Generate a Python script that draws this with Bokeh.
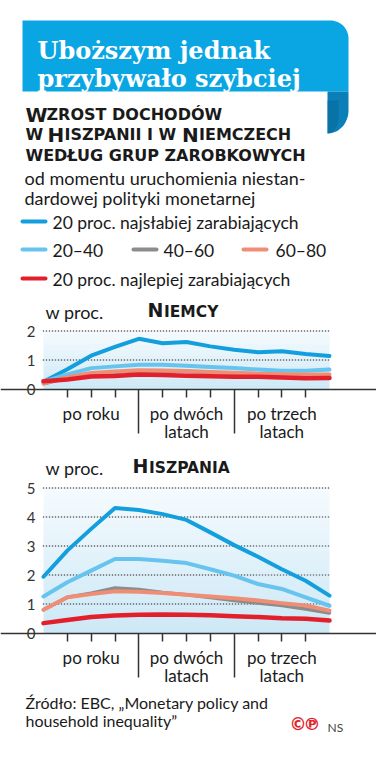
import numpy as np
from bokeh.plotting import figure
from bokeh.layouts import column
from bokeh.models import Range1d, FixedTicker
from bokeh.core.properties import value
from bokeh.embed import file_html
from bokeh.resources import INLINE

# ---------------- data ----------------
quarters = list(range(13))
short_ticks = [1, 2, 3, 5, 6, 7, 9, 10, 11]
year_marks = [4, 8]
period_labels = {2: ["po roku"], 6: ["po dwóch", "latach"], 10: ["po trzech", "latach"]}

group_names = ["20 proc. najsłabiej zarabiających", "20–40", "40–60", "60–80",
               "20 proc. najlepiej zarabiających"]

de_g1 = [0.25, 0.68, 1.15, 1.45, 1.73, 1.58, 1.62, 1.47, 1.35, 1.27, 1.30, 1.21, 1.14]
de_g2 = [0.25, 0.50, 0.72, 0.78, 0.84, 0.84, 0.80, 0.76, 0.72, 0.67, 0.63, 0.63, 0.67]
de_g3 = [0.18, 0.38, 0.52, 0.58, 0.63, 0.62, 0.60, 0.57, 0.54, 0.50, 0.48, 0.46, 0.45]
de_g4 = [0.20, 0.40, 0.55, 0.60, 0.65, 0.64, 0.62, 0.59, 0.56, 0.53, 0.51, 0.50, 0.50]
de_g5 = [0.27, 0.33, 0.43, 0.45, 0.50, 0.48, 0.46, 0.44, 0.42, 0.42, 0.40, 0.37, 0.38]

es_g1 = [1.94, 2.84, 3.59, 4.31, 4.24, 4.10, 3.90, 3.47, 3.03, 2.63, 2.20, 1.80, 1.29]
es_g2 = [1.26, 1.75, 2.15, 2.55, 2.55, 2.49, 2.41, 2.20, 1.98, 1.69, 1.52, 1.23, 0.94]
es_g3 = [0.80, 1.23, 1.37, 1.55, 1.50, 1.40, 1.32, 1.22, 1.12, 1.03, 0.95, 0.83, 0.69]
es_g4 = [0.80, 1.23, 1.34, 1.44, 1.42, 1.38, 1.32, 1.26, 1.20, 1.12, 1.03, 0.95, 0.77]
es_g5 = [0.34, 0.45, 0.55, 0.60, 0.63, 0.64, 0.63, 0.61, 0.58, 0.55, 0.51, 0.49, 0.43]

de_ticks = [0, 1, 2]
es_ticks = [0, 1, 2, 3, 4, 5]

# ---------------- styles ----------------
W = 376
BODY = "Lato"
CAPS = "DejaVu Sans"
SERIF = "DejaVu Serif"
INK = "#1a1a1a"
TITLE_BLUE = "#0aa6e4"
colors = ["#139fdd", "#66c4ee", "#8c8c8c", "#ef8d75", "#e2202b"]
widths = [4, 4, 3.5, 4, 4.5]
BIG = "20px"
SMALL = "16px"
CBIG = "19px"
CSMALL = "15.5px"


def strip(p):
    p.below = []
    p.left = []
    p.above = []
    p.right = []
    p.center = []


def base_fig(h, y0, y1):
    p = figure(width=W, height=h, x_range=Range1d(0, W), y_range=Range1d(y1, y0),
               toolbar_location=None, output_backend="svg", min_border=0,
               outline_line_color=None, tools="")
    strip(p)
    return p


def txt(p, x, y, s, font, size, color=INK, bold=False, align="left", baseline="alphabetic"):
    p.text(x=[x], y=[y], text=[s], text_font=value(font), text_font_size=size,
           text_color=color, text_font_style="bold" if bold else "normal",
           text_align=align, text_baseline=baseline)


# ---------------- header ----------------
head = base_fig(290, 0, 290)

x0, y0, x1, y1, r = 22, 20, 348, 91, 18
a = np.linspace(np.pi / 2, 0, 16)
bx = [x0, x1 - r] + list(x1 - r + r * np.cos(a)) + [x1, x0]
by = [y0, y0] + list(y0 + r - r * np.sin(a)) + [y1, y1]
head.patch(bx, by, fill_color=TITLE_BLUE, line_color=None)

a2 = np.linspace(0, np.pi / 2, 16)
fx = [327, 348] + list(327 + 21 * np.cos(a2)) + [327]
fy = [91, 91] + list(110 + 23 * np.sin(a2)) + [91]
head.patch(fx, fy, fill_color="#0b7fb8", line_color=None)
a3 = np.linspace(0, np.pi / 2, 16)
gx = [327, 338] + list(327 + 11 * np.cos(a3)) + [327]
gy = [100, 100] + list(118 + 15 * np.sin(a3)) + [100]
head.patch(gx, gy, fill_color="#086a9c", line_color=None, fill_alpha=0.6)

txt(head, 37, 50, "Uboższym jednak", SERIF, "24px", "white", bold=True)
txt(head, 37, 78, "przybywało szybciej", SERIF, "24px", "white", bold=True)

# small-caps subtitle
txt(head, 25, 114, "W", CAPS, BIG, bold=True)
txt(head, 46, 114, "ZROST DOCHODÓW", CAPS, SMALL, bold=True)
txt(head, 25, 134, "W", CAPS, SMALL, bold=True)
txt(head, 47, 134, "H", CAPS, BIG, bold=True)
txt(head, 64, 134, "ISZPANII I W", CAPS, SMALL, bold=True)
txt(head, 181.5, 134, "N", CAPS, BIG, bold=True)
txt(head, 198.5, 134, "IEMCZECH", CAPS, SMALL, bold=True)
txt(head, 25, 155, "WEDŁUG GRUP ZAROBKOWYCH", CAPS, SMALL, bold=True)

txt(head, 24, 177, "od momentu uruchomienia niestan-", BODY, "18px")
txt(head, 24, 197, "dardowej polityki monetarnej", BODY, "18px")

# legend
leg_rows = [(22, 221, 52, 0), (22, 249, 52, 1), (133, 249, 163, 2), (243, 249, 275, 3), (22, 278, 52, 4)]
for sx, sy, tx, i in leg_rows:
    head.segment(x0=[sx], y0=[sy], x1=[sx + 23], y1=[sy], line_color=colors[i],
                 line_width=4, line_cap="round")
    txt(head, tx, sy + 1, group_names[i], BODY, "17.5px", baseline="middle")


# ---------------- charts ----------------
LEFT_PX, RIGHT_PX = 43.0, 329.0


def chart(series, ticks, y_top, h, zero_px, ppu, big, small, big_px, small_dx, title_base):
    qpx = (RIGHT_PX - LEFT_PX) / 12.0          # px per quarter
    xr = Range1d(-LEFT_PX / qpx, 12 + (W - RIGHT_PX) / qpx)
    yr = Range1d(-(h - zero_px) / ppu, zero_px / ppu)
    p = figure(width=W, height=h, x_range=xr, y_range=yr, toolbar_location=None,
               output_backend="svg", min_border=0, outline_line_color=None, tools="")
    xa = p.xaxis[0]
    p.left = []
    p.center = []

    def dy(px_below_zero):
        return -px_below_zero / ppu

    # background gradient
    n = 40
    edges = np.linspace(0, y_top, n + 1)
    top_rgb = np.array([246, 251, 254])
    bot_rgb = np.array([204, 232, 246])
    cols = []
    for k in range(n):
        t = (edges[k] + edges[k + 1]) / 2 / y_top
        c = bot_rgb + (top_rgb - bot_rgb) * t
        cols.append("#%02x%02x%02x" % tuple(int(round(v)) for v in c))
    overlap = 0.4 / ppu
    p.quad(left=0, right=12, bottom=edges[:-1], top=list(edges[1:-1] + overlap) + [edges[-1]],
           fill_color=cols, line_color=None)

    # dotted gridlines at the y ticks, as a row of small dots across the plotting area
    gt = [t for t in ticks if t > 0]
    dot_x = np.arange(0, 12.0001, 3.0 / qpx)
    gx_all = np.concatenate([dot_x for _ in gt])
    gy_all = np.concatenate([np.full(len(dot_x), t, dtype=float) for t in gt])
    p.scatter(x=gx_all, y=gy_all, marker="square", size=1.3, fill_color="#666666",
              line_color=None)

    for i, ys in enumerate(series):
        p.line(quarters, ys, line_color=colors[i], line_width=widths[i],
               line_cap="round", line_join="round")

    # y tick labels
    p.text(x=[-8 / qpx] * len(ticks), y=ticks, text=[str(t) for t in ticks],
           text_font=value(BODY), text_font_size="15px", text_color="#333333",
           text_align="right", text_baseline="middle")

    # x axis, fixed at zero
    xa.fixed_location = 0
    xa.ticker = FixedTicker(ticks=short_ticks, minor_ticks=year_marks)
    xa.axis_line_color = "#333333"
    xa.axis_line_width = 1.5
    xa.major_tick_line_color = "#333333"
    xa.major_tick_line_width = 1.5
    xa.major_tick_in = 0
    xa.major_tick_out = 8
    xa.minor_tick_line_color = "#333333"
    xa.minor_tick_line_width = 1.5
    xa.minor_tick_in = 0
    xa.minor_tick_out = 44
    xa.major_label_text_font_size = "0px"
    xa.major_label_overrides = {q: "" for q in short_ticks}

    # period labels under the axis
    for q, lines in period_labels.items():
        for j, line in enumerate(lines):
            p.text(x=[q], y=[dy(24.5 + 17.5 * j)], text=[line], text_font=value(BODY),
                   text_font_size="17px", text_color=INK, text_align="center",
                   text_baseline="middle")

    # unit and title above the plot
    p.text(x=[(45 - LEFT_PX) / qpx], y=[(zero_px - title_base) / ppu], text=["w proc."],
           text_font=value(BODY), text_font_size="18px", text_color=INK)
    bx_ = (big_px - LEFT_PX) / qpx
    p.text(x=[bx_], y=[(zero_px - title_base + 2) / ppu], text=[big], text_font=value(CAPS),
           text_font_size=CBIG, text_font_style="bold", text_color=INK)
    p.text(x=[bx_ + small_dx / qpx], y=[(zero_px - title_base + 2) / ppu], text=[small],
           text_font=value(CAPS), text_font_size=CSMALL, text_font_style="bold", text_color=INK)
    return p


# Niemcy: figure spans page y 290..445, zero line at 388.5
de = chart([de_g1, de_g2, de_g3, de_g4, de_g5], de_ticks, 2.0, 155, 98.5, 29.0,
           "N", "IEMCY", 147, 16.5, 32)
# Hiszpania: figure spans page y 445..685, zero line at 632.5
es = chart([es_g1, es_g2, es_g3, es_g4, es_g5], es_ticks, 5.0, 240, 187.5, 29.0,
           "H", "ISZPANIA", 132, 16.5, 33)

# ---------------- footer ----------------
foot = base_fig(75, 685, 760)
txt(foot, 25, 702, "Źródło: EBC, „Monetary policy and", BODY, "16px")
txt(foot, 25, 720, "household inequality”", BODY, "16px")
txt(foot, 297.5, 723, "©", "DejaVu Sans", "17px", "#e3232b", bold=True, align="center", baseline="middle")
txt(foot, 311.5, 723, "℗", "DejaVu Sans", "17px", "#e3232b", bold=True, align="center", baseline="middle")
txt(foot, 327, 727, "NS", BODY, "12px", "#444444")

layout = column(head, de, es, foot, spacing=0)
open("out.html", "w").write(file_html(layout, INLINE))
